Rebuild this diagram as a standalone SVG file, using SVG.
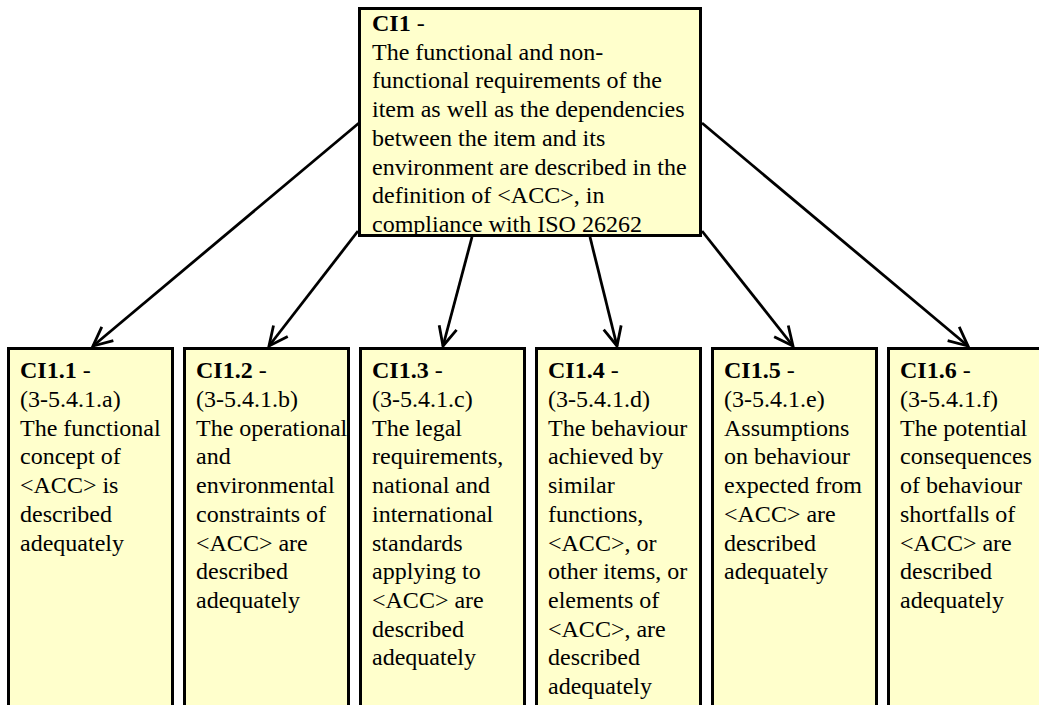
<svg xmlns="http://www.w3.org/2000/svg" width="1039" height="705" viewBox="0 0 1039 705">
  <style>
    .box { fill: #FFFFCC; stroke: #000; stroke-width: 3; }
    text { font-size: 24px; fill: #000; }
    .id { font-weight: bold; }
    .edge { stroke: #000; stroke-width: 2.8; fill: none; marker-end: url(#arrow); }
  </style>
  <defs>
    <marker id="arrow" markerUnits="userSpaceOnUse" viewBox="-22 -12 24 24" refX="0" refY="0" markerWidth="24" markerHeight="24" orient="auto" overflow="visible">
      <path d="M-19,-9 L0,0 L-19,9" fill="none" stroke="#000" stroke-width="2.8"/>
    </marker>
  </defs>

  <!-- connectors from the parent claim to each sub-claim -->
  <g id="connectors">
    <line class="edge" x1="359" y1="123" x2="93" y2="346"/>
    <line class="edge" x1="358" y1="231" x2="269" y2="346"/>
    <line class="edge" x1="472" y1="237" x2="443" y2="346"/>
    <line class="edge" x1="590" y1="237" x2="617" y2="346"/>
    <line class="edge" x1="702" y1="231" x2="793" y2="346"/>
    <line class="edge" x1="702" y1="123" x2="968" y2="346"/>
  </g>

  <g font-family="'Liberation Serif', 'DejaVu Serif', 'Times New Roman', Times, serif">
  <!-- parent claim -->
  <g id="CI1">
    <rect class="box" x="359.5" y="8.5" width="341" height="227"/>
    <text>
      <tspan x="372" y="31"><tspan class="id">CI1</tspan> -</tspan>
      <tspan x="372" y="59.7">The functional and non-</tspan>
      <tspan x="372" y="88.4">functional requirements of the</tspan>
      <tspan x="372" y="117.1">item as well as the dependencies</tspan>
      <tspan x="372" y="145.8">between the item and its</tspan>
      <tspan x="372" y="174.5">environment are described in the</tspan>
      <tspan x="372" y="203.2">definition of &lt;ACC&gt;, in</tspan>
      <tspan x="372" y="231.9">compliance with ISO 26262</tspan>
    </text>
  </g>

  <g id="CI1.1">
    <rect class="box" x="8.5" y="348.5" width="164" height="400"/>
    <text>
      <tspan x="20" y="378.3"><tspan class="id">CI1.1</tspan> -</tspan>
      <tspan x="20" y="407">(3-5.4.1.a)</tspan>
      <tspan x="20" y="435.7">The functional</tspan>
      <tspan x="20" y="464.4">concept of</tspan>
      <tspan x="20" y="493.1">&lt;ACC&gt; is</tspan>
      <tspan x="20" y="521.8">described</tspan>
      <tspan x="20" y="550.5">adequately</tspan>
    </text>
  </g>

  <g id="CI1.2">
    <rect class="box" x="184.5" y="348.5" width="164" height="400"/>
    <text>
      <tspan x="196" y="378.3"><tspan class="id">CI1.2</tspan> -</tspan>
      <tspan x="196" y="407">(3-5.4.1.b)</tspan>
      <tspan x="196" y="435.7">The operational</tspan>
      <tspan x="196" y="464.4">and</tspan>
      <tspan x="196" y="493.1">environmental</tspan>
      <tspan x="196" y="521.8">constraints of</tspan>
      <tspan x="196" y="550.5">&lt;ACC&gt; are</tspan>
      <tspan x="196" y="579.2">described</tspan>
      <tspan x="196" y="607.9">adequately</tspan>
    </text>
  </g>

  <g id="CI1.3">
    <rect class="box" x="360.5" y="348.5" width="164" height="400"/>
    <text>
      <tspan x="372" y="378.3"><tspan class="id">CI1.3</tspan> -</tspan>
      <tspan x="372" y="407">(3-5.4.1.c)</tspan>
      <tspan x="372" y="435.7">The legal</tspan>
      <tspan x="372" y="464.4">requirements,</tspan>
      <tspan x="372" y="493.1">national and</tspan>
      <tspan x="372" y="521.8">international</tspan>
      <tspan x="372" y="550.5">standards</tspan>
      <tspan x="372" y="579.2">applying to</tspan>
      <tspan x="372" y="607.9">&lt;ACC&gt; are</tspan>
      <tspan x="372" y="636.6">described</tspan>
      <tspan x="372" y="665.3">adequately</tspan>
    </text>
  </g>

  <g id="CI1.4">
    <rect class="box" x="536.5" y="348.5" width="164" height="400"/>
    <text>
      <tspan x="548" y="378.3"><tspan class="id">CI1.4</tspan> -</tspan>
      <tspan x="548" y="407">(3-5.4.1.d)</tspan>
      <tspan x="548" y="435.7">The behaviour</tspan>
      <tspan x="548" y="464.4">achieved by</tspan>
      <tspan x="548" y="493.1">similar</tspan>
      <tspan x="548" y="521.8">functions,</tspan>
      <tspan x="548" y="550.5">&lt;ACC&gt;, or</tspan>
      <tspan x="548" y="579.2">other items, or</tspan>
      <tspan x="548" y="607.9">elements of</tspan>
      <tspan x="548" y="636.6">&lt;ACC&gt;, are</tspan>
      <tspan x="548" y="665.3">described</tspan>
      <tspan x="548" y="694">adequately</tspan>
    </text>
  </g>

  <g id="CI1.5">
    <rect class="box" x="712.5" y="348.5" width="164" height="400"/>
    <text>
      <tspan x="724" y="378.3"><tspan class="id">CI1.5</tspan> -</tspan>
      <tspan x="724" y="407">(3-5.4.1.e)</tspan>
      <tspan x="724" y="435.7">Assumptions</tspan>
      <tspan x="724" y="464.4">on behaviour</tspan>
      <tspan x="724" y="493.1">expected from</tspan>
      <tspan x="724" y="521.8">&lt;ACC&gt; are</tspan>
      <tspan x="724" y="550.5">described</tspan>
      <tspan x="724" y="579.2">adequately</tspan>
    </text>
  </g>

  <g id="CI1.6">
    <rect class="box" x="888.5" y="348.5" width="164" height="400"/>
    <text>
      <tspan x="900" y="378.3"><tspan class="id">CI1.6</tspan> -</tspan>
      <tspan x="900" y="407">(3-5.4.1.f)</tspan>
      <tspan x="900" y="435.7">The potential</tspan>
      <tspan x="900" y="464.4">consequences</tspan>
      <tspan x="900" y="493.1">of behaviour</tspan>
      <tspan x="900" y="521.8">shortfalls of</tspan>
      <tspan x="900" y="550.5">&lt;ACC&gt; are</tspan>
      <tspan x="900" y="579.2">described</tspan>
      <tspan x="900" y="607.9">adequately</tspan>
    </text>
  </g>
  </g>
</svg>
